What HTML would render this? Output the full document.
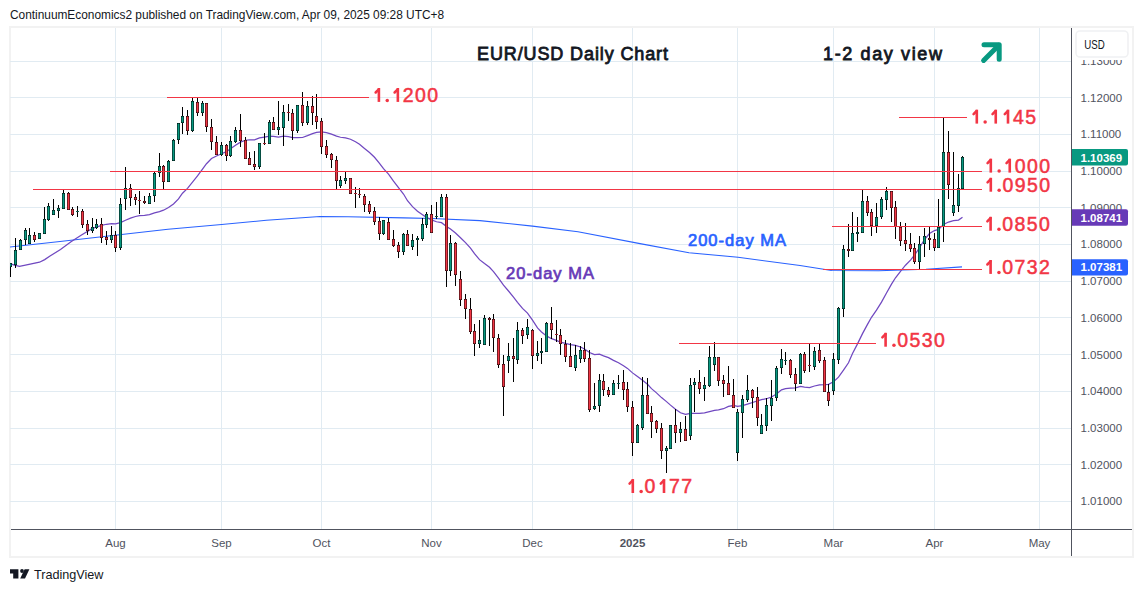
<!DOCTYPE html><html><head><meta charset="utf-8"><style>html,body{margin:0;padding:0;background:#fff;width:1143px;height:592px;overflow:hidden}svg{display:block}text{font-family:"Liberation Sans",sans-serif}</style></head><body><svg width="1143" height="592" viewBox="0 0 1143 592" shape-rendering="crispEdges"><text x="10" y="19" font-size="11.9" textLength="434" lengthAdjust="spacing" fill="#131722">ContinuumEconomics2 published on TradingView.com, Apr 09, 2025 09:28 UTC+8</text><rect x="9" y="26" width="1125" height="532" fill="#f2f2f2"/><rect x="11" y="28" width="1121" height="528" fill="#fff"/><rect x="10" y="61" width="1061" height="1" fill="#e1ebf2"/><rect x="10" y="97" width="1061" height="1" fill="#e1ebf2"/><rect x="10" y="134" width="1061" height="1" fill="#e1ebf2"/><rect x="10" y="171" width="1061" height="1" fill="#e1ebf2"/><rect x="10" y="207" width="1061" height="1" fill="#e1ebf2"/><rect x="10" y="244" width="1061" height="1" fill="#e1ebf2"/><rect x="10" y="281" width="1061" height="1" fill="#e1ebf2"/><rect x="10" y="317" width="1061" height="1" fill="#e1ebf2"/><rect x="10" y="354" width="1061" height="1" fill="#e1ebf2"/><rect x="10" y="391" width="1061" height="1" fill="#e1ebf2"/><rect x="10" y="428" width="1061" height="1" fill="#e1ebf2"/><rect x="10" y="464" width="1061" height="1" fill="#e1ebf2"/><rect x="10" y="501" width="1061" height="1" fill="#e1ebf2"/><rect x="115" y="28" width="1" height="501" fill="#e1ebf2"/><rect x="221" y="28" width="1" height="501" fill="#e1ebf2"/><rect x="321" y="28" width="1" height="501" fill="#e1ebf2"/><rect x="431" y="28" width="1" height="501" fill="#e1ebf2"/><rect x="532" y="28" width="1" height="501" fill="#e1ebf2"/><rect x="632" y="28" width="1" height="501" fill="#e1ebf2"/><rect x="737" y="28" width="1" height="501" fill="#e1ebf2"/><rect x="833" y="28" width="1" height="501" fill="#e1ebf2"/><rect x="934" y="28" width="1" height="501" fill="#e1ebf2"/><rect x="1039" y="28" width="1" height="501" fill="#e1ebf2"/><defs><clipPath id="pane"><rect x="10" y="28" width="1061" height="501"/></clipPath></defs><g clip-path="url(#pane)"><polyline shape-rendering="geometricPrecision" fill="none" stroke="#2962ff" stroke-width="1.1" points="8,247.2 60,241.5 115,235.3 168,229.2 221.6,224.5 266.4,220.3 320,216.5 348,216.8 404,217.9 432,218.5 480,220.6 532.5,226.1 578,231.7 640,243.6 689,252.7 738,257.3 800,265.5 831.5,270.5 878.7,270.8 926,269.2 962,266.9"/><polyline shape-rendering="geometricPrecision" fill="none" stroke="#7048c0" stroke-width="1.25" points="8,263 10.1,263.5 14.3,265.2 19.5,266.4 29,264.3 39.5,262.2 44.7,259.6 50,256 60.5,249.6 71,241.8 81.5,235 92,228.6 101.5,225.44 106.5,224.26 111.5,223.52 115.5,223.87 120.5,222.57 125.5,220.24 130.5,218.14 135.5,216.49 139.5,215.58 144.5,215.41 149.5,214.71 154.5,212.94 159.5,211.59 163.5,210.19 168.5,207.51 173.5,203.97 178.5,198.91 182.5,193.18 187.5,188.34 192.5,182.19 197.5,175.94 202.5,169.1 206.5,163.71 211.5,158.45 216.5,155.97 221.5,153.8 226.5,151.7 230.5,148.75 235.5,145.22 240.5,142.12 245.5,140.25 249.5,139.84 254.5,139.88 259.5,137.94 264.5,137.07 269.5,136.18 273.5,136.49 278.5,137.05 283.5,136.11 288.5,136.72 292.5,137.62 297.5,137.73 302.5,137.5 307.5,135.68 312.5,133.58 316.5,132.42 321.5,131.97 326.5,132.63 331.5,134.15 336.5,136.17 340.5,137.25 345.5,137.92 350.5,139.25 355.5,141.8 359.5,144.34 364.5,148.46 369.5,152.56 374.5,157.28 379.5,163.37 383.5,168.72 388.5,174.16 393.5,181.19 398.5,187.64 403.5,194.03 407.5,200.72 412.5,206.64 417.5,211.22 422.5,214.69 426.5,217.38 431.5,219.94 436.5,221.74 441.5,222.69 446.5,226.54 450.5,229.02 455.5,233.02 460.5,237.78 465.5,242.67 470.5,248.16 474.5,253.66 479.5,259.67 484.5,263.58 489.5,267.27 493.5,271.61 498.5,278.16 503.5,285.16 508.5,290.98 513.5,297.03 517.5,302.31 522.5,308.39 527.5,313.12 532.5,320.09 537.5,327.88 541.5,331.91 546.5,335.91 551.5,338.69 556.5,340.45 560.5,342.21 565.5,343.46 570.5,344.66 575.5,345.39 580.5,347.0 584.5,348.97 589.5,352.52 594.5,354.57 599.5,354.25 603.5,355.91 608.5,357.67 613.5,360.33 618.5,362.69 623.5,365.79 627.5,368.38 632.5,372.88 637.5,376.57 642.5,380.17 647.5,384.32 651.5,388.66 656.5,392.88 661.5,397.59 666.5,401.63 670.5,405.14 675.5,409.26 680.5,412.79 685.5,414.34 690.5,413.32 694.5,413.43 699.5,413.39 704.5,412.93 709.5,411.62 714.5,410.36 718.5,409.91 723.5,408.73 728.5,406.36 733.5,405.51 737.5,406.36 742.5,405.63 747.5,404.06 752.5,402.49 757.5,400.88 761.5,399.73 766.5,398.73 771.5,397.0 776.5,393.94 781.5,389.87 785.5,388.58 790.5,388.22 795.5,387.96 800.5,386.4 804.5,387.07 809.5,387.5 814.5,386.0 819.5,384.85 824.5,384.71 828.5,384.35 833.5,381.71 838.5,377.16 843.5,370.12 848.5,362.76 852.5,353.5 857.5,343.85 862.5,333.64 867.5,324.38 871.5,317.27 876.5,310.18 881.5,302.14 886.5,292.94 891.5,284.14 895.5,277.79 900.5,271.29 905.5,265.22 910.5,260.12 914.5,255.17 919.5,247.75 924.5,239.53 929.5,233.56 934.5,230.53 938.5,229.39 943.5,224.47 948.5,222.06 953.5,220.7 958.5,220.06 962.5,217.28"/><rect x="10" y="263" width="1" height="14" fill="#000"/><rect x="9" y="263" width="3" height="4" fill="#000"/><rect shape-rendering="geometricPrecision" x="9.5" y="263.5" width="2" height="3" fill="#089981"/><rect x="15" y="238" width="1" height="30" fill="#000"/><rect x="14" y="250" width="3" height="15" fill="#000"/><rect shape-rendering="geometricPrecision" x="14.5" y="250.5" width="2" height="14" fill="#089981"/><rect x="20" y="239" width="1" height="11" fill="#000"/><rect x="19" y="240" width="3" height="10" fill="#000"/><rect shape-rendering="geometricPrecision" x="19.5" y="240.5" width="2" height="9" fill="#089981"/><rect x="25" y="228" width="1" height="17" fill="#000"/><rect x="24" y="230" width="3" height="10" fill="#000"/><rect shape-rendering="geometricPrecision" x="24.5" y="230.5" width="2" height="9" fill="#089981"/><rect x="29" y="228" width="1" height="16" fill="#000"/><rect x="28" y="235" width="3" height="9" fill="#000"/><rect shape-rendering="geometricPrecision" x="28.5" y="235.5" width="2" height="8" fill="#089981"/><rect x="34" y="232" width="1" height="10" fill="#000"/><rect x="33" y="235" width="3" height="5" fill="#000"/><rect shape-rendering="geometricPrecision" x="33.5" y="235.5" width="2" height="4" fill="#f23645"/><rect x="39" y="233" width="1" height="6" fill="#000"/><rect x="38" y="233" width="3" height="6" fill="#000"/><rect shape-rendering="geometricPrecision" x="38.5" y="233.5" width="2" height="5" fill="#089981"/><rect x="44" y="207" width="1" height="27" fill="#000"/><rect x="43" y="219" width="3" height="15" fill="#000"/><rect shape-rendering="geometricPrecision" x="43.5" y="219.5" width="2" height="14" fill="#089981"/><rect x="48" y="203" width="1" height="18" fill="#000"/><rect x="47" y="206" width="3" height="14" fill="#000"/><rect shape-rendering="geometricPrecision" x="47.5" y="206.5" width="2" height="13" fill="#089981"/><rect x="53" y="199" width="1" height="16" fill="#000"/><rect x="52" y="210" width="3" height="5" fill="#000"/><rect shape-rendering="geometricPrecision" x="52.5" y="210.5" width="2" height="4" fill="#089981"/><rect x="58" y="205" width="1" height="13" fill="#000"/><rect x="57" y="208" width="3" height="3" fill="#000"/><rect shape-rendering="geometricPrecision" x="57.5" y="208.5" width="2" height="2" fill="#089981"/><rect x="63" y="190" width="1" height="19" fill="#000"/><rect x="62" y="193" width="3" height="16" fill="#000"/><rect shape-rendering="geometricPrecision" x="62.5" y="193.5" width="2" height="15" fill="#089981"/><rect x="68" y="192" width="1" height="18" fill="#000"/><rect x="67" y="193" width="3" height="17" fill="#000"/><rect shape-rendering="geometricPrecision" x="67.5" y="193.5" width="2" height="16" fill="#f23645"/><rect x="72" y="207" width="1" height="9" fill="#000"/><rect x="71" y="209" width="3" height="6" fill="#000"/><rect shape-rendering="geometricPrecision" x="71.5" y="209.5" width="2" height="5" fill="#f23645"/><rect x="77" y="206" width="1" height="11" fill="#000"/><rect x="76" y="211" width="3" height="1" fill="#0a5a4c"/><rect x="82" y="209" width="1" height="19" fill="#000"/><rect x="81" y="211" width="3" height="14" fill="#000"/><rect shape-rendering="geometricPrecision" x="81.5" y="211.5" width="2" height="13" fill="#f23645"/><rect x="87" y="220" width="1" height="15" fill="#000"/><rect x="86" y="224" width="3" height="7" fill="#000"/><rect shape-rendering="geometricPrecision" x="86.5" y="224.5" width="2" height="6" fill="#f23645"/><rect x="92" y="218" width="1" height="15" fill="#000"/><rect x="91" y="227" width="3" height="4" fill="#000"/><rect shape-rendering="geometricPrecision" x="91.5" y="227.5" width="2" height="3" fill="#089981"/><rect x="96" y="219" width="1" height="10" fill="#000"/><rect x="95" y="224" width="3" height="4" fill="#000"/><rect shape-rendering="geometricPrecision" x="95.5" y="224.5" width="2" height="3" fill="#089981"/><rect x="101" y="218" width="1" height="25" fill="#000"/><rect x="100" y="224" width="3" height="14" fill="#000"/><rect shape-rendering="geometricPrecision" x="100.5" y="224.5" width="2" height="13" fill="#f23645"/><rect x="106" y="231" width="1" height="14" fill="#000"/><rect x="105" y="237" width="3" height="3" fill="#000"/><rect shape-rendering="geometricPrecision" x="105.5" y="237.5" width="2" height="2" fill="#f23645"/><rect x="111" y="226" width="1" height="17" fill="#000"/><rect x="110" y="235" width="3" height="5" fill="#000"/><rect shape-rendering="geometricPrecision" x="110.5" y="235.5" width="2" height="4" fill="#089981"/><rect x="115" y="231" width="1" height="21" fill="#000"/><rect x="114" y="235" width="3" height="13" fill="#000"/><rect shape-rendering="geometricPrecision" x="114.5" y="235.5" width="2" height="12" fill="#f23645"/><rect x="120" y="198" width="1" height="52" fill="#000"/><rect x="119" y="204" width="3" height="44" fill="#000"/><rect shape-rendering="geometricPrecision" x="119.5" y="204.5" width="2" height="43" fill="#089981"/><rect x="125" y="167" width="1" height="43" fill="#000"/><rect x="124" y="188" width="3" height="11" fill="#000"/><rect shape-rendering="geometricPrecision" x="124.5" y="188.5" width="2" height="10" fill="#089981"/><rect x="130" y="184" width="1" height="22" fill="#000"/><rect x="129" y="188" width="3" height="10" fill="#000"/><rect shape-rendering="geometricPrecision" x="129.5" y="188.5" width="2" height="9" fill="#f23645"/><rect x="135" y="194" width="1" height="11" fill="#000"/><rect x="134" y="197" width="3" height="3" fill="#000"/><rect shape-rendering="geometricPrecision" x="134.5" y="197.5" width="2" height="2" fill="#f23645"/><rect x="139" y="191" width="1" height="23" fill="#000"/><rect x="138" y="200" width="3" height="1" fill="#9a1f2b"/><rect x="144" y="196" width="1" height="8" fill="#000"/><rect x="143" y="201" width="3" height="2" fill="#000"/><rect shape-rendering="geometricPrecision" x="143.5" y="201.5" width="2" height="1" fill="#f23645"/><rect x="149" y="193" width="1" height="11" fill="#000"/><rect x="148" y="196" width="3" height="8" fill="#000"/><rect shape-rendering="geometricPrecision" x="148.5" y="196.5" width="2" height="7" fill="#089981"/><rect x="154" y="172" width="1" height="30" fill="#000"/><rect x="153" y="173" width="3" height="23" fill="#000"/><rect shape-rendering="geometricPrecision" x="153.5" y="173.5" width="2" height="22" fill="#089981"/><rect x="159" y="153" width="1" height="24" fill="#000"/><rect x="158" y="166" width="3" height="7" fill="#000"/><rect shape-rendering="geometricPrecision" x="158.5" y="166.5" width="2" height="6" fill="#089981"/><rect x="163" y="165" width="1" height="24" fill="#000"/><rect x="162" y="166" width="3" height="16" fill="#000"/><rect shape-rendering="geometricPrecision" x="162.5" y="166.5" width="2" height="15" fill="#f23645"/><rect x="168" y="160" width="1" height="22" fill="#000"/><rect x="167" y="161" width="3" height="21" fill="#000"/><rect shape-rendering="geometricPrecision" x="167.5" y="161.5" width="2" height="20" fill="#089981"/><rect x="173" y="139" width="1" height="22" fill="#000"/><rect x="172" y="140" width="3" height="21" fill="#000"/><rect shape-rendering="geometricPrecision" x="172.5" y="140.5" width="2" height="20" fill="#089981"/><rect x="178" y="123" width="1" height="21" fill="#000"/><rect x="177" y="123" width="3" height="17" fill="#000"/><rect shape-rendering="geometricPrecision" x="177.5" y="123.5" width="2" height="16" fill="#089981"/><rect x="182" y="107" width="1" height="27" fill="#000"/><rect x="181" y="116" width="3" height="7" fill="#000"/><rect shape-rendering="geometricPrecision" x="181.5" y="116.5" width="2" height="6" fill="#089981"/><rect x="187" y="110" width="1" height="25" fill="#000"/><rect x="186" y="116" width="3" height="15" fill="#000"/><rect shape-rendering="geometricPrecision" x="186.5" y="116.5" width="2" height="14" fill="#f23645"/><rect x="192" y="98" width="1" height="34" fill="#000"/><rect x="191" y="101" width="3" height="30" fill="#000"/><rect shape-rendering="geometricPrecision" x="191.5" y="101.5" width="2" height="29" fill="#089981"/><rect x="197" y="98" width="1" height="18" fill="#000"/><rect x="196" y="102" width="3" height="11" fill="#000"/><rect shape-rendering="geometricPrecision" x="196.5" y="102.5" width="2" height="10" fill="#f23645"/><rect x="202" y="101" width="1" height="15" fill="#000"/><rect x="201" y="103" width="3" height="10" fill="#000"/><rect shape-rendering="geometricPrecision" x="201.5" y="103.5" width="2" height="9" fill="#089981"/><rect x="206" y="103" width="1" height="29" fill="#000"/><rect x="205" y="103" width="3" height="24" fill="#000"/><rect shape-rendering="geometricPrecision" x="205.5" y="103.5" width="2" height="23" fill="#f23645"/><rect x="211" y="119" width="1" height="31" fill="#000"/><rect x="210" y="127" width="3" height="15" fill="#000"/><rect shape-rendering="geometricPrecision" x="210.5" y="127.5" width="2" height="14" fill="#f23645"/><rect x="216" y="136" width="1" height="19" fill="#000"/><rect x="215" y="142" width="3" height="13" fill="#000"/><rect shape-rendering="geometricPrecision" x="215.5" y="142.5" width="2" height="12" fill="#f23645"/><rect x="221" y="142" width="1" height="14" fill="#000"/><rect x="220" y="145" width="3" height="10" fill="#000"/><rect shape-rendering="geometricPrecision" x="220.5" y="145.5" width="2" height="9" fill="#089981"/><rect x="226" y="144" width="1" height="17" fill="#000"/><rect x="225" y="145" width="3" height="11" fill="#000"/><rect shape-rendering="geometricPrecision" x="225.5" y="145.5" width="2" height="10" fill="#f23645"/><rect x="230" y="136" width="1" height="21" fill="#000"/><rect x="229" y="141" width="3" height="15" fill="#000"/><rect shape-rendering="geometricPrecision" x="229.5" y="141.5" width="2" height="14" fill="#089981"/><rect x="235" y="127" width="1" height="16" fill="#000"/><rect x="234" y="130" width="3" height="12" fill="#000"/><rect shape-rendering="geometricPrecision" x="234.5" y="130.5" width="2" height="11" fill="#089981"/><rect x="240" y="114" width="1" height="33" fill="#000"/><rect x="239" y="130" width="3" height="11" fill="#000"/><rect shape-rendering="geometricPrecision" x="239.5" y="130.5" width="2" height="10" fill="#f23645"/><rect x="245" y="137" width="1" height="22" fill="#000"/><rect x="244" y="140" width="3" height="19" fill="#000"/><rect shape-rendering="geometricPrecision" x="244.5" y="140.5" width="2" height="18" fill="#f23645"/><rect x="249" y="152" width="1" height="13" fill="#000"/><rect x="248" y="158" width="3" height="7" fill="#000"/><rect shape-rendering="geometricPrecision" x="248.5" y="158.5" width="2" height="6" fill="#f23645"/><rect x="254" y="151" width="1" height="19" fill="#000"/><rect x="253" y="164" width="3" height="3" fill="#000"/><rect shape-rendering="geometricPrecision" x="253.5" y="164.5" width="2" height="2" fill="#f23645"/><rect x="259" y="143" width="1" height="26" fill="#000"/><rect x="258" y="143" width="3" height="24" fill="#000"/><rect shape-rendering="geometricPrecision" x="258.5" y="143.5" width="2" height="23" fill="#089981"/><rect x="264" y="133" width="1" height="12" fill="#000"/><rect x="263" y="143" width="3" height="1" fill="#9a1f2b"/><rect x="269" y="120" width="1" height="24" fill="#000"/><rect x="268" y="122" width="3" height="22" fill="#000"/><rect shape-rendering="geometricPrecision" x="268.5" y="122.5" width="2" height="21" fill="#089981"/><rect x="273" y="117" width="1" height="13" fill="#000"/><rect x="272" y="122" width="3" height="8" fill="#000"/><rect shape-rendering="geometricPrecision" x="272.5" y="122.5" width="2" height="7" fill="#f23645"/><rect x="278" y="101" width="1" height="34" fill="#000"/><rect x="277" y="127" width="3" height="3" fill="#000"/><rect shape-rendering="geometricPrecision" x="277.5" y="127.5" width="2" height="2" fill="#089981"/><rect x="283" y="105" width="1" height="41" fill="#000"/><rect x="282" y="112" width="3" height="16" fill="#000"/><rect shape-rendering="geometricPrecision" x="282.5" y="112.5" width="2" height="15" fill="#089981"/><rect x="288" y="104" width="1" height="17" fill="#000"/><rect x="287" y="112" width="3" height="1" fill="#9a1f2b"/><rect x="292" y="109" width="1" height="31" fill="#000"/><rect x="291" y="113" width="3" height="18" fill="#000"/><rect shape-rendering="geometricPrecision" x="291.5" y="113.5" width="2" height="17" fill="#f23645"/><rect x="297" y="105" width="1" height="28" fill="#000"/><rect x="296" y="105" width="3" height="26" fill="#000"/><rect shape-rendering="geometricPrecision" x="296.5" y="105.5" width="2" height="25" fill="#089981"/><rect x="302" y="92" width="1" height="34" fill="#000"/><rect x="301" y="105" width="3" height="18" fill="#000"/><rect shape-rendering="geometricPrecision" x="301.5" y="105.5" width="2" height="17" fill="#f23645"/><rect x="307" y="101" width="1" height="24" fill="#000"/><rect x="306" y="106" width="3" height="17" fill="#000"/><rect shape-rendering="geometricPrecision" x="306.5" y="106.5" width="2" height="16" fill="#089981"/><rect x="312" y="96" width="1" height="29" fill="#000"/><rect x="311" y="106" width="3" height="7" fill="#000"/><rect shape-rendering="geometricPrecision" x="311.5" y="106.5" width="2" height="6" fill="#f23645"/><rect x="316" y="94" width="1" height="35" fill="#000"/><rect x="315" y="116" width="3" height="6" fill="#000"/><rect shape-rendering="geometricPrecision" x="315.5" y="116.5" width="2" height="5" fill="#f23645"/><rect x="321" y="118" width="1" height="36" fill="#000"/><rect x="320" y="121" width="3" height="26" fill="#000"/><rect shape-rendering="geometricPrecision" x="320.5" y="121.5" width="2" height="25" fill="#f23645"/><rect x="326" y="140" width="1" height="18" fill="#000"/><rect x="325" y="146" width="3" height="9" fill="#000"/><rect shape-rendering="geometricPrecision" x="325.5" y="146.5" width="2" height="8" fill="#f23645"/><rect x="331" y="153" width="1" height="15" fill="#000"/><rect x="330" y="154" width="3" height="6" fill="#000"/><rect shape-rendering="geometricPrecision" x="330.5" y="154.5" width="2" height="5" fill="#f23645"/><rect x="336" y="156" width="1" height="33" fill="#000"/><rect x="335" y="160" width="3" height="21" fill="#000"/><rect shape-rendering="geometricPrecision" x="335.5" y="160.5" width="2" height="20" fill="#f23645"/><rect x="340" y="176" width="1" height="12" fill="#000"/><rect x="339" y="180" width="3" height="6" fill="#000"/><rect shape-rendering="geometricPrecision" x="339.5" y="180.5" width="2" height="5" fill="#089981"/><rect x="345" y="172" width="1" height="12" fill="#000"/><rect x="344" y="178" width="3" height="3" fill="#000"/><rect shape-rendering="geometricPrecision" x="344.5" y="178.5" width="2" height="2" fill="#089981"/><rect x="350" y="178" width="1" height="16" fill="#000"/><rect x="349" y="178" width="3" height="16" fill="#000"/><rect shape-rendering="geometricPrecision" x="349.5" y="178.5" width="2" height="15" fill="#f23645"/><rect x="355" y="187" width="1" height="21" fill="#000"/><rect x="354" y="193" width="3" height="1" fill="#9a1f2b"/><rect x="359" y="188" width="1" height="10" fill="#000"/><rect x="358" y="194" width="3" height="1" fill="#9a1f2b"/><rect x="364" y="194" width="1" height="18" fill="#000"/><rect x="363" y="196" width="3" height="9" fill="#000"/><rect shape-rendering="geometricPrecision" x="363.5" y="196.5" width="2" height="8" fill="#f23645"/><rect x="369" y="201" width="1" height="13" fill="#000"/><rect x="368" y="204" width="3" height="8" fill="#000"/><rect shape-rendering="geometricPrecision" x="368.5" y="204.5" width="2" height="7" fill="#f23645"/><rect x="374" y="207" width="1" height="18" fill="#000"/><rect x="373" y="211" width="3" height="11" fill="#000"/><rect shape-rendering="geometricPrecision" x="373.5" y="211.5" width="2" height="10" fill="#f23645"/><rect x="379" y="217" width="1" height="23" fill="#000"/><rect x="378" y="221" width="3" height="13" fill="#000"/><rect shape-rendering="geometricPrecision" x="378.5" y="221.5" width="2" height="12" fill="#f23645"/><rect x="383" y="220" width="1" height="15" fill="#000"/><rect x="382" y="220" width="3" height="14" fill="#000"/><rect shape-rendering="geometricPrecision" x="382.5" y="220.5" width="2" height="13" fill="#089981"/><rect x="388" y="218" width="1" height="22" fill="#000"/><rect x="387" y="222" width="3" height="18" fill="#000"/><rect shape-rendering="geometricPrecision" x="387.5" y="222.5" width="2" height="17" fill="#f23645"/><rect x="393" y="230" width="1" height="17" fill="#000"/><rect x="392" y="239" width="3" height="7" fill="#000"/><rect shape-rendering="geometricPrecision" x="392.5" y="239.5" width="2" height="6" fill="#f23645"/><rect x="398" y="242" width="1" height="16" fill="#000"/><rect x="397" y="245" width="3" height="7" fill="#000"/><rect shape-rendering="geometricPrecision" x="397.5" y="245.5" width="2" height="6" fill="#f23645"/><rect x="403" y="233" width="1" height="22" fill="#000"/><rect x="402" y="234" width="3" height="18" fill="#000"/><rect shape-rendering="geometricPrecision" x="402.5" y="234.5" width="2" height="17" fill="#089981"/><rect x="407" y="230" width="1" height="16" fill="#000"/><rect x="406" y="234" width="3" height="12" fill="#000"/><rect shape-rendering="geometricPrecision" x="406.5" y="234.5" width="2" height="11" fill="#f23645"/><rect x="412" y="234" width="1" height="16" fill="#000"/><rect x="411" y="240" width="3" height="7" fill="#000"/><rect shape-rendering="geometricPrecision" x="411.5" y="240.5" width="2" height="6" fill="#089981"/><rect x="417" y="236" width="1" height="20" fill="#000"/><rect x="416" y="238" width="3" height="2" fill="#000"/><rect shape-rendering="geometricPrecision" x="416.5" y="238.5" width="2" height="1" fill="#089981"/><rect x="422" y="218" width="1" height="23" fill="#000"/><rect x="421" y="224" width="3" height="15" fill="#000"/><rect shape-rendering="geometricPrecision" x="421.5" y="224.5" width="2" height="14" fill="#089981"/><rect x="426" y="212" width="1" height="16" fill="#000"/><rect x="425" y="214" width="3" height="11" fill="#000"/><rect shape-rendering="geometricPrecision" x="425.5" y="214.5" width="2" height="10" fill="#089981"/><rect x="431" y="205" width="1" height="28" fill="#000"/><rect x="430" y="214" width="3" height="19" fill="#000"/><rect shape-rendering="geometricPrecision" x="430.5" y="214.5" width="2" height="18" fill="#f23645"/><rect x="436" y="202" width="1" height="17" fill="#000"/><rect x="435" y="216" width="3" height="1" fill="#0a5a4c"/><rect x="441" y="194" width="1" height="23" fill="#000"/><rect x="440" y="197" width="3" height="20" fill="#000"/><rect shape-rendering="geometricPrecision" x="440.5" y="197.5" width="2" height="19" fill="#089981"/><rect x="446" y="194" width="1" height="93" fill="#000"/><rect x="445" y="197" width="3" height="74" fill="#000"/><rect shape-rendering="geometricPrecision" x="445.5" y="197.5" width="2" height="73" fill="#f23645"/><rect x="450" y="235" width="1" height="41" fill="#000"/><rect x="449" y="243" width="3" height="28" fill="#000"/><rect shape-rendering="geometricPrecision" x="449.5" y="243.5" width="2" height="27" fill="#089981"/><rect x="455" y="242" width="1" height="44" fill="#000"/><rect x="454" y="243" width="3" height="32" fill="#000"/><rect shape-rendering="geometricPrecision" x="454.5" y="243.5" width="2" height="31" fill="#f23645"/><rect x="460" y="271" width="1" height="35" fill="#000"/><rect x="459" y="279" width="3" height="21" fill="#000"/><rect shape-rendering="geometricPrecision" x="459.5" y="279.5" width="2" height="20" fill="#f23645"/><rect x="465" y="294" width="1" height="25" fill="#000"/><rect x="464" y="299" width="3" height="10" fill="#000"/><rect shape-rendering="geometricPrecision" x="464.5" y="299.5" width="2" height="9" fill="#f23645"/><rect x="470" y="298" width="1" height="36" fill="#000"/><rect x="469" y="309" width="3" height="23" fill="#000"/><rect shape-rendering="geometricPrecision" x="469.5" y="309.5" width="2" height="22" fill="#f23645"/><rect x="474" y="324" width="1" height="32" fill="#000"/><rect x="473" y="331" width="3" height="13" fill="#000"/><rect shape-rendering="geometricPrecision" x="473.5" y="331.5" width="2" height="12" fill="#f23645"/><rect x="479" y="320" width="1" height="28" fill="#000"/><rect x="478" y="340" width="3" height="4" fill="#000"/><rect shape-rendering="geometricPrecision" x="478.5" y="340.5" width="2" height="3" fill="#089981"/><rect x="484" y="315" width="1" height="30" fill="#000"/><rect x="483" y="318" width="3" height="27" fill="#000"/><rect shape-rendering="geometricPrecision" x="483.5" y="318.5" width="2" height="26" fill="#089981"/><rect x="489" y="317" width="1" height="29" fill="#000"/><rect x="488" y="318" width="3" height="2" fill="#000"/><rect shape-rendering="geometricPrecision" x="488.5" y="318.5" width="2" height="1" fill="#f23645"/><rect x="493" y="314" width="1" height="38" fill="#000"/><rect x="492" y="319" width="3" height="19" fill="#000"/><rect shape-rendering="geometricPrecision" x="492.5" y="319.5" width="2" height="18" fill="#f23645"/><rect x="498" y="334" width="1" height="34" fill="#000"/><rect x="497" y="338" width="3" height="27" fill="#000"/><rect shape-rendering="geometricPrecision" x="497.5" y="338.5" width="2" height="26" fill="#f23645"/><rect x="503" y="355" width="1" height="61" fill="#000"/><rect x="502" y="364" width="3" height="23" fill="#000"/><rect shape-rendering="geometricPrecision" x="502.5" y="364.5" width="2" height="22" fill="#f23645"/><rect x="508" y="343" width="1" height="30" fill="#000"/><rect x="507" y="356" width="3" height="5" fill="#000"/><rect shape-rendering="geometricPrecision" x="507.5" y="356.5" width="2" height="4" fill="#089981"/><rect x="513" y="338" width="1" height="44" fill="#000"/><rect x="512" y="356" width="3" height="3" fill="#000"/><rect shape-rendering="geometricPrecision" x="512.5" y="356.5" width="2" height="2" fill="#f23645"/><rect x="517" y="322" width="1" height="42" fill="#000"/><rect x="516" y="330" width="3" height="30" fill="#000"/><rect shape-rendering="geometricPrecision" x="516.5" y="330.5" width="2" height="29" fill="#089981"/><rect x="522" y="328" width="1" height="16" fill="#000"/><rect x="521" y="330" width="3" height="6" fill="#000"/><rect shape-rendering="geometricPrecision" x="521.5" y="330.5" width="2" height="5" fill="#f23645"/><rect x="527" y="319" width="1" height="20" fill="#000"/><rect x="526" y="327" width="3" height="8" fill="#000"/><rect shape-rendering="geometricPrecision" x="526.5" y="327.5" width="2" height="7" fill="#089981"/><rect x="532" y="329" width="1" height="40" fill="#000"/><rect x="531" y="330" width="3" height="26" fill="#000"/><rect shape-rendering="geometricPrecision" x="531.5" y="330.5" width="2" height="25" fill="#f23645"/><rect x="537" y="341" width="1" height="20" fill="#000"/><rect x="536" y="353" width="3" height="3" fill="#000"/><rect shape-rendering="geometricPrecision" x="536.5" y="353.5" width="2" height="2" fill="#089981"/><rect x="541" y="338" width="1" height="26" fill="#000"/><rect x="540" y="351" width="3" height="2" fill="#000"/><rect shape-rendering="geometricPrecision" x="540.5" y="351.5" width="2" height="1" fill="#089981"/><rect x="546" y="322" width="1" height="30" fill="#000"/><rect x="545" y="323" width="3" height="29" fill="#000"/><rect shape-rendering="geometricPrecision" x="545.5" y="323.5" width="2" height="28" fill="#089981"/><rect x="551" y="307" width="1" height="32" fill="#000"/><rect x="550" y="323" width="3" height="7" fill="#000"/><rect shape-rendering="geometricPrecision" x="550.5" y="323.5" width="2" height="6" fill="#f23645"/><rect x="556" y="320" width="1" height="22" fill="#000"/><rect x="555" y="334" width="3" height="1" fill="#9a1f2b"/><rect x="560" y="329" width="1" height="26" fill="#000"/><rect x="559" y="335" width="3" height="9" fill="#000"/><rect shape-rendering="geometricPrecision" x="559.5" y="335.5" width="2" height="8" fill="#f23645"/><rect x="565" y="340" width="1" height="22" fill="#000"/><rect x="564" y="344" width="3" height="13" fill="#000"/><rect shape-rendering="geometricPrecision" x="564.5" y="344.5" width="2" height="12" fill="#f23645"/><rect x="570" y="343" width="1" height="24" fill="#000"/><rect x="569" y="356" width="3" height="11" fill="#000"/><rect shape-rendering="geometricPrecision" x="569.5" y="356.5" width="2" height="10" fill="#f23645"/><rect x="575" y="345" width="1" height="26" fill="#000"/><rect x="574" y="355" width="3" height="13" fill="#000"/><rect shape-rendering="geometricPrecision" x="574.5" y="355.5" width="2" height="12" fill="#089981"/><rect x="580" y="346" width="1" height="17" fill="#000"/><rect x="579" y="350" width="3" height="9" fill="#000"/><rect shape-rendering="geometricPrecision" x="579.5" y="350.5" width="2" height="8" fill="#089981"/><rect x="584" y="342" width="1" height="20" fill="#000"/><rect x="583" y="350" width="3" height="9" fill="#000"/><rect shape-rendering="geometricPrecision" x="583.5" y="350.5" width="2" height="8" fill="#f23645"/><rect x="589" y="350" width="1" height="62" fill="#000"/><rect x="588" y="358" width="3" height="52" fill="#000"/><rect shape-rendering="geometricPrecision" x="588.5" y="358.5" width="2" height="51" fill="#f23645"/><rect x="594" y="383" width="1" height="27" fill="#000"/><rect x="593" y="406" width="3" height="3" fill="#000"/><rect shape-rendering="geometricPrecision" x="593.5" y="406.5" width="2" height="2" fill="#089981"/><rect x="599" y="374" width="1" height="38" fill="#000"/><rect x="598" y="380" width="3" height="26" fill="#000"/><rect shape-rendering="geometricPrecision" x="598.5" y="380.5" width="2" height="25" fill="#089981"/><rect x="603" y="374" width="1" height="22" fill="#000"/><rect x="602" y="381" width="3" height="9" fill="#000"/><rect shape-rendering="geometricPrecision" x="602.5" y="381.5" width="2" height="8" fill="#f23645"/><rect x="608" y="387" width="1" height="10" fill="#000"/><rect x="607" y="390" width="3" height="5" fill="#000"/><rect shape-rendering="geometricPrecision" x="607.5" y="390.5" width="2" height="4" fill="#f23645"/><rect x="613" y="380" width="1" height="15" fill="#000"/><rect x="612" y="383" width="3" height="12" fill="#000"/><rect shape-rendering="geometricPrecision" x="612.5" y="383.5" width="2" height="11" fill="#089981"/><rect x="618" y="375" width="1" height="14" fill="#000"/><rect x="617" y="383" width="3" height="1" fill="#0a5a4c"/><rect x="623" y="370" width="1" height="30" fill="#000"/><rect x="622" y="382" width="3" height="8" fill="#000"/><rect shape-rendering="geometricPrecision" x="622.5" y="382.5" width="2" height="7" fill="#f23645"/><rect x="627" y="382" width="1" height="30" fill="#000"/><rect x="626" y="389" width="3" height="18" fill="#000"/><rect shape-rendering="geometricPrecision" x="626.5" y="389.5" width="2" height="17" fill="#f23645"/><rect x="632" y="401" width="1" height="55" fill="#000"/><rect x="631" y="407" width="3" height="36" fill="#000"/><rect shape-rendering="geometricPrecision" x="631.5" y="407.5" width="2" height="35" fill="#f23645"/><rect x="637" y="424" width="1" height="19" fill="#000"/><rect x="636" y="425" width="3" height="18" fill="#000"/><rect shape-rendering="geometricPrecision" x="636.5" y="425.5" width="2" height="17" fill="#089981"/><rect x="642" y="377" width="1" height="53" fill="#000"/><rect x="641" y="395" width="3" height="33" fill="#000"/><rect shape-rendering="geometricPrecision" x="641.5" y="395.5" width="2" height="32" fill="#089981"/><rect x="647" y="378" width="1" height="36" fill="#000"/><rect x="646" y="395" width="3" height="19" fill="#000"/><rect shape-rendering="geometricPrecision" x="646.5" y="395.5" width="2" height="18" fill="#f23645"/><rect x="651" y="406" width="1" height="32" fill="#000"/><rect x="650" y="413" width="3" height="9" fill="#000"/><rect shape-rendering="geometricPrecision" x="650.5" y="413.5" width="2" height="8" fill="#f23645"/><rect x="656" y="420" width="1" height="13" fill="#000"/><rect x="655" y="421" width="3" height="8" fill="#000"/><rect shape-rendering="geometricPrecision" x="655.5" y="421.5" width="2" height="7" fill="#f23645"/><rect x="661" y="423" width="1" height="36" fill="#000"/><rect x="660" y="428" width="3" height="23" fill="#000"/><rect shape-rendering="geometricPrecision" x="660.5" y="428.5" width="2" height="22" fill="#f23645"/><rect x="666" y="446" width="1" height="27" fill="#000"/><rect x="665" y="448" width="3" height="3" fill="#000"/><rect shape-rendering="geometricPrecision" x="665.5" y="448.5" width="2" height="2" fill="#089981"/><rect x="670" y="425" width="1" height="24" fill="#000"/><rect x="669" y="425" width="3" height="24" fill="#000"/><rect shape-rendering="geometricPrecision" x="669.5" y="425.5" width="2" height="23" fill="#089981"/><rect x="675" y="409" width="1" height="34" fill="#000"/><rect x="674" y="425" width="3" height="8" fill="#000"/><rect shape-rendering="geometricPrecision" x="674.5" y="425.5" width="2" height="7" fill="#f23645"/><rect x="680" y="422" width="1" height="20" fill="#000"/><rect x="679" y="429" width="3" height="4" fill="#000"/><rect shape-rendering="geometricPrecision" x="679.5" y="429.5" width="2" height="3" fill="#089981"/><rect x="685" y="416" width="1" height="25" fill="#000"/><rect x="684" y="429" width="3" height="12" fill="#000"/><rect shape-rendering="geometricPrecision" x="684.5" y="429.5" width="2" height="11" fill="#f23645"/><rect x="690" y="378" width="1" height="62" fill="#000"/><rect x="689" y="385" width="3" height="51" fill="#000"/><rect shape-rendering="geometricPrecision" x="689.5" y="385.5" width="2" height="50" fill="#089981"/><rect x="694" y="378" width="1" height="34" fill="#000"/><rect x="693" y="382" width="3" height="3" fill="#000"/><rect shape-rendering="geometricPrecision" x="693.5" y="382.5" width="2" height="2" fill="#089981"/><rect x="699" y="370" width="1" height="24" fill="#000"/><rect x="698" y="382" width="3" height="7" fill="#000"/><rect shape-rendering="geometricPrecision" x="698.5" y="382.5" width="2" height="6" fill="#f23645"/><rect x="704" y="377" width="1" height="24" fill="#000"/><rect x="703" y="385" width="3" height="4" fill="#000"/><rect shape-rendering="geometricPrecision" x="703.5" y="385.5" width="2" height="3" fill="#089981"/><rect x="709" y="346" width="1" height="41" fill="#000"/><rect x="708" y="357" width="3" height="29" fill="#000"/><rect shape-rendering="geometricPrecision" x="708.5" y="357.5" width="2" height="28" fill="#089981"/><rect x="714" y="342" width="1" height="29" fill="#000"/><rect x="713" y="357" width="3" height="8" fill="#000"/><rect shape-rendering="geometricPrecision" x="713.5" y="357.5" width="2" height="7" fill="#089981"/><rect x="718" y="357" width="1" height="29" fill="#000"/><rect x="717" y="357" width="3" height="24" fill="#000"/><rect shape-rendering="geometricPrecision" x="717.5" y="357.5" width="2" height="23" fill="#f23645"/><rect x="723" y="375" width="1" height="22" fill="#000"/><rect x="722" y="380" width="3" height="4" fill="#000"/><rect shape-rendering="geometricPrecision" x="722.5" y="380.5" width="2" height="3" fill="#f23645"/><rect x="728" y="366" width="1" height="29" fill="#000"/><rect x="727" y="383" width="3" height="12" fill="#000"/><rect shape-rendering="geometricPrecision" x="727.5" y="383.5" width="2" height="11" fill="#f23645"/><rect x="733" y="379" width="1" height="29" fill="#000"/><rect x="732" y="395" width="3" height="13" fill="#000"/><rect shape-rendering="geometricPrecision" x="732.5" y="395.5" width="2" height="12" fill="#f23645"/><rect x="737" y="409" width="1" height="52" fill="#000"/><rect x="736" y="412" width="3" height="41" fill="#000"/><rect shape-rendering="geometricPrecision" x="736.5" y="412.5" width="2" height="40" fill="#089981"/><rect x="742" y="395" width="1" height="43" fill="#000"/><rect x="741" y="399" width="3" height="14" fill="#000"/><rect shape-rendering="geometricPrecision" x="741.5" y="399.5" width="2" height="13" fill="#089981"/><rect x="747" y="375" width="1" height="27" fill="#000"/><rect x="746" y="390" width="3" height="10" fill="#000"/><rect shape-rendering="geometricPrecision" x="746.5" y="390.5" width="2" height="9" fill="#089981"/><rect x="752" y="389" width="1" height="19" fill="#000"/><rect x="751" y="390" width="3" height="8" fill="#000"/><rect shape-rendering="geometricPrecision" x="751.5" y="390.5" width="2" height="7" fill="#f23645"/><rect x="757" y="387" width="1" height="39" fill="#000"/><rect x="756" y="397" width="3" height="21" fill="#000"/><rect shape-rendering="geometricPrecision" x="756.5" y="397.5" width="2" height="20" fill="#f23645"/><rect x="761" y="414" width="1" height="20" fill="#000"/><rect x="760" y="425" width="3" height="9" fill="#000"/><rect shape-rendering="geometricPrecision" x="760.5" y="425.5" width="2" height="8" fill="#089981"/><rect x="766" y="398" width="1" height="33" fill="#000"/><rect x="765" y="405" width="3" height="21" fill="#000"/><rect shape-rendering="geometricPrecision" x="765.5" y="405.5" width="2" height="20" fill="#089981"/><rect x="771" y="380" width="1" height="41" fill="#000"/><rect x="770" y="398" width="3" height="8" fill="#000"/><rect shape-rendering="geometricPrecision" x="770.5" y="398.5" width="2" height="7" fill="#089981"/><rect x="776" y="366" width="1" height="35" fill="#000"/><rect x="775" y="368" width="3" height="30" fill="#000"/><rect shape-rendering="geometricPrecision" x="775.5" y="368.5" width="2" height="29" fill="#089981"/><rect x="781" y="349" width="1" height="25" fill="#000"/><rect x="780" y="359" width="3" height="9" fill="#000"/><rect shape-rendering="geometricPrecision" x="780.5" y="359.5" width="2" height="8" fill="#089981"/><rect x="785" y="352" width="1" height="13" fill="#000"/><rect x="784" y="360" width="3" height="1" fill="#0a5a4c"/><rect x="790" y="359" width="1" height="19" fill="#000"/><rect x="789" y="360" width="3" height="15" fill="#000"/><rect shape-rendering="geometricPrecision" x="789.5" y="360.5" width="2" height="14" fill="#f23645"/><rect x="795" y="368" width="1" height="23" fill="#000"/><rect x="794" y="374" width="3" height="10" fill="#000"/><rect shape-rendering="geometricPrecision" x="794.5" y="374.5" width="2" height="9" fill="#f23645"/><rect x="800" y="353" width="1" height="31" fill="#000"/><rect x="799" y="354" width="3" height="30" fill="#000"/><rect shape-rendering="geometricPrecision" x="799.5" y="354.5" width="2" height="29" fill="#089981"/><rect x="804" y="352" width="1" height="21" fill="#000"/><rect x="803" y="354" width="3" height="17" fill="#000"/><rect shape-rendering="geometricPrecision" x="803.5" y="354.5" width="2" height="16" fill="#f23645"/><rect x="809" y="343" width="1" height="29" fill="#000"/><rect x="808" y="365" width="3" height="1" fill="#9a1f2b"/><rect x="814" y="347" width="1" height="23" fill="#000"/><rect x="813" y="351" width="3" height="16" fill="#000"/><rect shape-rendering="geometricPrecision" x="813.5" y="351.5" width="2" height="15" fill="#089981"/><rect x="819" y="344" width="1" height="19" fill="#000"/><rect x="818" y="350" width="3" height="11" fill="#000"/><rect shape-rendering="geometricPrecision" x="818.5" y="350.5" width="2" height="10" fill="#f23645"/><rect x="824" y="357" width="1" height="35" fill="#000"/><rect x="823" y="360" width="3" height="32" fill="#000"/><rect shape-rendering="geometricPrecision" x="823.5" y="360.5" width="2" height="31" fill="#f23645"/><rect x="828" y="384" width="1" height="22" fill="#000"/><rect x="827" y="392" width="3" height="9" fill="#000"/><rect shape-rendering="geometricPrecision" x="827.5" y="392.5" width="2" height="8" fill="#f23645"/><rect x="833" y="353" width="1" height="42" fill="#000"/><rect x="832" y="359" width="3" height="32" fill="#000"/><rect shape-rendering="geometricPrecision" x="832.5" y="359.5" width="2" height="31" fill="#089981"/><rect x="838" y="307" width="1" height="57" fill="#000"/><rect x="837" y="308" width="3" height="52" fill="#000"/><rect shape-rendering="geometricPrecision" x="837.5" y="308.5" width="2" height="51" fill="#089981"/><rect x="843" y="245" width="1" height="72" fill="#000"/><rect x="842" y="249" width="3" height="60" fill="#000"/><rect shape-rendering="geometricPrecision" x="842.5" y="249.5" width="2" height="59" fill="#089981"/><rect x="848" y="224" width="1" height="33" fill="#000"/><rect x="847" y="249" width="3" height="2" fill="#000"/><rect shape-rendering="geometricPrecision" x="847.5" y="249.5" width="2" height="1" fill="#f23645"/><rect x="852" y="212" width="1" height="39" fill="#000"/><rect x="851" y="233" width="3" height="18" fill="#000"/><rect shape-rendering="geometricPrecision" x="851.5" y="233.5" width="2" height="17" fill="#089981"/><rect x="857" y="217" width="1" height="25" fill="#000"/><rect x="856" y="232" width="3" height="2" fill="#000"/><rect shape-rendering="geometricPrecision" x="856.5" y="232.5" width="2" height="1" fill="#089981"/><rect x="862" y="190" width="1" height="43" fill="#000"/><rect x="861" y="201" width="3" height="32" fill="#000"/><rect shape-rendering="geometricPrecision" x="861.5" y="201.5" width="2" height="31" fill="#089981"/><rect x="867" y="196" width="1" height="20" fill="#000"/><rect x="866" y="201" width="3" height="12" fill="#000"/><rect shape-rendering="geometricPrecision" x="866.5" y="201.5" width="2" height="11" fill="#f23645"/><rect x="871" y="209" width="1" height="27" fill="#000"/><rect x="870" y="212" width="3" height="14" fill="#000"/><rect shape-rendering="geometricPrecision" x="870.5" y="212.5" width="2" height="13" fill="#f23645"/><rect x="876" y="203" width="1" height="30" fill="#000"/><rect x="875" y="217" width="3" height="9" fill="#000"/><rect shape-rendering="geometricPrecision" x="875.5" y="217.5" width="2" height="8" fill="#089981"/><rect x="881" y="197" width="1" height="22" fill="#000"/><rect x="880" y="199" width="3" height="18" fill="#000"/><rect shape-rendering="geometricPrecision" x="880.5" y="199.5" width="2" height="17" fill="#089981"/><rect x="886" y="187" width="1" height="23" fill="#000"/><rect x="885" y="191" width="3" height="9" fill="#000"/><rect shape-rendering="geometricPrecision" x="885.5" y="191.5" width="2" height="8" fill="#089981"/><rect x="891" y="191" width="1" height="31" fill="#000"/><rect x="890" y="191" width="3" height="17" fill="#000"/><rect shape-rendering="geometricPrecision" x="890.5" y="191.5" width="2" height="16" fill="#f23645"/><rect x="895" y="201" width="1" height="38" fill="#000"/><rect x="894" y="207" width="3" height="20" fill="#000"/><rect shape-rendering="geometricPrecision" x="894.5" y="207.5" width="2" height="19" fill="#f23645"/><rect x="900" y="222" width="1" height="24" fill="#000"/><rect x="899" y="227" width="3" height="14" fill="#000"/><rect shape-rendering="geometricPrecision" x="899.5" y="227.5" width="2" height="13" fill="#f23645"/><rect x="905" y="223" width="1" height="28" fill="#000"/><rect x="904" y="240" width="3" height="4" fill="#000"/><rect shape-rendering="geometricPrecision" x="904.5" y="240.5" width="2" height="3" fill="#f23645"/><rect x="910" y="233" width="1" height="19" fill="#000"/><rect x="909" y="244" width="3" height="5" fill="#000"/><rect shape-rendering="geometricPrecision" x="909.5" y="244.5" width="2" height="4" fill="#f23645"/><rect x="914" y="243" width="1" height="21" fill="#000"/><rect x="913" y="248" width="3" height="14" fill="#000"/><rect shape-rendering="geometricPrecision" x="913.5" y="248.5" width="2" height="13" fill="#f23645"/><rect x="919" y="236" width="1" height="33" fill="#000"/><rect x="918" y="244" width="3" height="18" fill="#000"/><rect shape-rendering="geometricPrecision" x="918.5" y="244.5" width="2" height="17" fill="#089981"/><rect x="924" y="228" width="1" height="29" fill="#000"/><rect x="923" y="236" width="3" height="8" fill="#000"/><rect shape-rendering="geometricPrecision" x="923.5" y="236.5" width="2" height="7" fill="#089981"/><rect x="929" y="227" width="1" height="23" fill="#000"/><rect x="928" y="238" width="3" height="2" fill="#000"/><rect shape-rendering="geometricPrecision" x="928.5" y="238.5" width="2" height="1" fill="#f23645"/><rect x="934" y="233" width="1" height="18" fill="#000"/><rect x="933" y="239" width="3" height="9" fill="#000"/><rect shape-rendering="geometricPrecision" x="933.5" y="239.5" width="2" height="8" fill="#f23645"/><rect x="938" y="199" width="1" height="49" fill="#000"/><rect x="937" y="227" width="3" height="21" fill="#000"/><rect shape-rendering="geometricPrecision" x="937.5" y="227.5" width="2" height="20" fill="#089981"/><rect x="943" y="118" width="1" height="124" fill="#000"/><rect x="942" y="152" width="3" height="75" fill="#000"/><rect shape-rendering="geometricPrecision" x="942.5" y="152.5" width="2" height="74" fill="#089981"/><rect x="948" y="131" width="1" height="68" fill="#000"/><rect x="947" y="152" width="3" height="33" fill="#000"/><rect shape-rendering="geometricPrecision" x="947.5" y="152.5" width="2" height="32" fill="#f23645"/><rect x="953" y="152" width="1" height="64" fill="#000"/><rect x="952" y="205" width="3" height="8" fill="#000"/><rect shape-rendering="geometricPrecision" x="952.5" y="205.5" width="2" height="7" fill="#089981"/><rect x="958" y="174" width="1" height="38" fill="#000"/><rect x="957" y="188" width="3" height="18" fill="#000"/><rect shape-rendering="geometricPrecision" x="957.5" y="188.5" width="2" height="17" fill="#089981"/><rect x="962" y="156" width="1" height="33" fill="#000"/><rect x="961" y="157" width="3" height="32" fill="#000"/><rect shape-rendering="geometricPrecision" x="961.5" y="157.5" width="2" height="31" fill="#089981"/><rect x="167" y="97" width="202" height="1" fill="#f23645"/><rect x="899" y="117" width="68" height="1" fill="#f23645"/><rect x="110" y="171" width="872" height="1" fill="#f23645"/><rect x="33" y="189" width="949" height="1" fill="#f23645"/><rect x="832" y="226" width="150" height="1" fill="#f23645"/><rect x="823" y="269" width="159" height="1" fill="#f23645"/><rect x="679" y="343" width="197" height="1" fill="#f23645"/></g><g fill="#f23645" shape-rendering="geometricPrecision"><rect x="377.60" y="88.00" width="2.6" height="13.9"/><path d="M378.80,89.30 L375.65,92.50" stroke="#f23645" stroke-width="2.5" stroke-linecap="round" fill="none"/><circle cx="387.25" cy="100.40" r="1.75"/><rect x="396.55" y="88.00" width="2.6" height="13.9"/><path d="M397.75,89.30 L394.60,92.50" stroke="#f23645" stroke-width="2.5" stroke-linecap="round" fill="none"/><text x="402.85 415.10 427.35" y="101.90" stroke="#f23645" stroke-width="0.5" font-size="19.5">200</text><rect x="975.50" y="109.70" width="2.6" height="13.9"/><path d="M976.70,111.00 L973.55,114.20" stroke="#f23645" stroke-width="2.5" stroke-linecap="round" fill="none"/><circle cx="985.15" cy="122.10" r="1.75"/><rect x="994.45" y="109.70" width="2.6" height="13.9"/><path d="M995.65,111.00 L992.50,114.20" stroke="#f23645" stroke-width="2.5" stroke-linecap="round" fill="none"/><rect x="1006.70" y="109.70" width="2.6" height="13.9"/><path d="M1007.90,111.00 L1004.75,114.20" stroke="#f23645" stroke-width="2.5" stroke-linecap="round" fill="none"/><text x="1013.00 1025.25" y="123.60" stroke="#f23645" stroke-width="0.5" font-size="19.5">45</text><rect x="989.50" y="158.70" width="2.6" height="13.9"/><path d="M990.70,160.00 L987.55,163.20" stroke="#f23645" stroke-width="2.5" stroke-linecap="round" fill="none"/><circle cx="999.15" cy="171.10" r="1.75"/><rect x="1008.45" y="158.70" width="2.6" height="13.9"/><path d="M1009.65,160.00 L1006.50,163.20" stroke="#f23645" stroke-width="2.5" stroke-linecap="round" fill="none"/><text x="1014.75 1027.00 1039.25" y="172.60" stroke="#f23645" stroke-width="0.5" font-size="19.5">000</text><rect x="989.50" y="177.80" width="2.6" height="13.9"/><path d="M990.70,179.10 L987.55,182.30" stroke="#f23645" stroke-width="2.5" stroke-linecap="round" fill="none"/><circle cx="999.15" cy="190.20" r="1.75"/><text x="1002.50 1014.75 1027.00 1039.25" y="191.70" stroke="#f23645" stroke-width="0.5" font-size="19.5">0950</text><rect x="989.30" y="216.80" width="2.6" height="13.9"/><path d="M990.50,218.10 L987.35,221.30" stroke="#f23645" stroke-width="2.5" stroke-linecap="round" fill="none"/><circle cx="998.95" cy="229.20" r="1.75"/><text x="1002.30 1014.55 1026.80 1039.05" y="230.70" stroke="#f23645" stroke-width="0.5" font-size="19.5">0850</text><rect x="989.30" y="260.00" width="2.6" height="13.9"/><path d="M990.50,261.30 L987.35,264.50" stroke="#f23645" stroke-width="2.5" stroke-linecap="round" fill="none"/><circle cx="998.95" cy="272.40" r="1.75"/><text x="1002.30 1014.55 1026.80 1039.05" y="273.90" stroke="#f23645" stroke-width="0.5" font-size="19.5">0732</text><rect x="884.30" y="332.80" width="2.6" height="13.9"/><path d="M885.50,334.10 L882.35,337.30" stroke="#f23645" stroke-width="2.5" stroke-linecap="round" fill="none"/><circle cx="893.95" cy="345.20" r="1.75"/><text x="897.30 909.55 921.80 934.05" y="346.70" stroke="#f23645" stroke-width="0.5" font-size="19.5">0530</text><rect x="631.50" y="479.10" width="2.6" height="13.9"/><path d="M632.70,480.40 L629.55,483.60" stroke="#f23645" stroke-width="2.5" stroke-linecap="round" fill="none"/><circle cx="641.15" cy="491.50" r="1.75"/><rect x="662.70" y="479.10" width="2.6" height="13.9"/><path d="M663.90,480.40 L660.75,483.60" stroke="#f23645" stroke-width="2.5" stroke-linecap="round" fill="none"/><text x="644.50 669.00 681.25" y="493.00" stroke="#f23645" stroke-width="0.5" font-size="19.5">077</text></g><text x="477" y="59.5" font-size="18" stroke="#131722" stroke-width="0.8" textLength="191" lengthAdjust="spacing" fill="#131722">EUR/USD Daily Chart</text><text x="823" y="59.5" font-size="18" stroke="#131722" stroke-width="0.8" textLength="119" lengthAdjust="spacing" fill="#131722">1-2 day view</text><g shape-rendering="geometricPrecision" stroke="#089981" stroke-width="5" fill="none" stroke-linecap="round" stroke-linejoin="round"><path d="M983.6,60.4 L998.5,45.5"/><path d="M984,44.7 H999.2 V59.3"/></g><text x="688" y="245.5" font-size="16.5" stroke="#2962ff" stroke-width="0.7" textLength="98" lengthAdjust="spacing" fill="#2962ff">200-day MA</text><text x="506" y="278.5" font-size="16.5" stroke="#673ab7" stroke-width="0.7" textLength="88" lengthAdjust="spacing" fill="#673ab7">20-day MA</text><rect x="1071" y="28" width="1" height="528" fill="#50535e"/><rect x="11" y="529" width="1121" height="1" fill="#50535e"/><text x="1080.5" y="505.4" font-size="11.5" fill="#50535e">1.01000</text><text x="1080.5" y="468.7" font-size="11.5" fill="#50535e">1.02000</text><text x="1080.5" y="432.0" font-size="11.5" fill="#50535e">1.03000</text><text x="1080.5" y="395.3" font-size="11.5" fill="#50535e">1.04000</text><text x="1080.5" y="358.6" font-size="11.5" fill="#50535e">1.05000</text><text x="1080.5" y="321.8" font-size="11.5" fill="#50535e">1.06000</text><text x="1080.5" y="285.1" font-size="11.5" fill="#50535e">1.07000</text><text x="1080.5" y="248.4" font-size="11.5" fill="#50535e">1.08000</text><text x="1080.5" y="211.7" font-size="11.5" fill="#50535e">1.09000</text><text x="1080.5" y="175.0" font-size="11.5" fill="#50535e">1.10000</text><text x="1080.5" y="138.3" font-size="11.5" fill="#50535e">1.11000</text><text x="1080.5" y="101.6" font-size="11.5" fill="#50535e">1.12000</text><text x="1080.5" y="64.9" font-size="11.5" fill="#50535e">1.13000</text><rect x="1072" y="28" width="60" height="32" fill="#fff"/><rect shape-rendering="geometricPrecision" x="1076" y="31" width="52" height="26" rx="4" fill="#fff" stroke="#f0f1f3" stroke-width="1.6"/><text x="1084.3" y="48.7" font-size="12" textLength="20.5" lengthAdjust="spacingAndGlyphs" fill="#131722">USD</text><path shape-rendering="geometricPrecision" d="M1072,149 H1126 Q1128,149 1128,151 V163.5 Q1128,165.5 1126,165.5 H1072 Z" fill="#089981"/><text x="1080.5" y="161.5" font-size="11.5" fill="#fff" font-weight="bold">1.10369</text><path shape-rendering="geometricPrecision" d="M1072,209.2 H1126 Q1128,209.2 1128,211.2 V223.7 Q1128,225.7 1126,225.7 H1072 Z" fill="#673ab7"/><text x="1080.5" y="221.7" font-size="11.5" fill="#fff" font-weight="bold">1.08741</text><path shape-rendering="geometricPrecision" d="M1072,259.2 H1126 Q1128,259.2 1128,261.2 V273.4 Q1128,275.4 1126,275.4 H1072 Z" fill="#2962ff"/><text x="1080.5" y="271.4" font-size="11.5" fill="#fff" font-weight="bold">1.07381</text><text x="115.5" y="547" font-size="11.5" text-anchor="middle" fill="#50535e">Aug</text><text x="221.5" y="547" font-size="11.5" text-anchor="middle" fill="#50535e">Sep</text><text x="321.5" y="547" font-size="11.5" text-anchor="middle" fill="#50535e">Oct</text><text x="431.5" y="547" font-size="11.5" text-anchor="middle" fill="#50535e">Nov</text><text x="532.5" y="547" font-size="11.5" text-anchor="middle" fill="#50535e">Dec</text><text x="632.5" y="547" font-size="11.5" text-anchor="middle" fill="#50535e" font-weight="bold">2025</text><text x="737.5" y="547" font-size="11.5" text-anchor="middle" fill="#50535e">Feb</text><text x="833.5" y="547" font-size="11.5" text-anchor="middle" fill="#50535e">Mar</text><text x="934.5" y="547" font-size="11.5" text-anchor="middle" fill="#50535e">Apr</text><text x="1039.5" y="547" font-size="11.5" text-anchor="middle" fill="#50535e">May</text><g fill="#131722" shape-rendering="geometricPrecision"><path d="M10,569.2 H18.4 V578.6 H13.2 V573.4 H10 Z"/><circle cx="22" cy="571" r="1.9"/><path d="M24.6,569.2 H29.4 L25,578.6 H20.2 Z"/></g><text x="34" y="579" font-size="13" textLength="69.5" lengthAdjust="spacingAndGlyphs" fill="#131722">TradingView</text></svg></body></html>
